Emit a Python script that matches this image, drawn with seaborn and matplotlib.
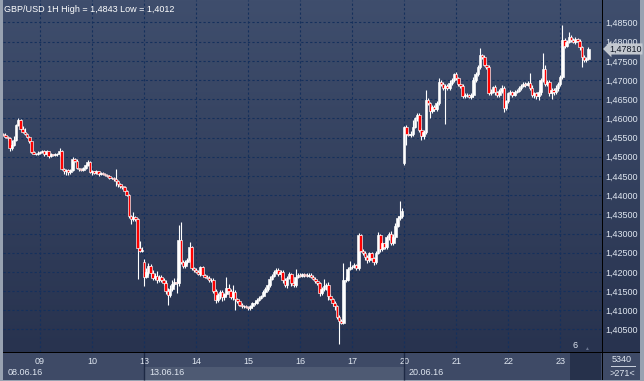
import numpy as np
import pandas as pd
import matplotlib
matplotlib.use("Agg")
import matplotlib.pyplot as plt
import matplotlib.transforms as mtransforms
from matplotlib.colors import LinearSegmentedColormap
from matplotlib.patches import Rectangle
from matplotlib.ticker import FuncFormatter
import seaborn as sns


# ── Data (GBP/USD, 1H candles, 08.06.16 07:00 .. 23.06.16 13:00) ─────────────
first_open = 1.4560
gap_open = {65: 1.4226, 185: 1.4484}   # weekend gaps (candle index -> open)

close = [
    # 08.06
    1.4556, 1.4552, 1.4548, 1.4522, 1.4530, 1.4545, 1.4582, 1.4596, 1.4572,
    1.4565, 1.4560, 1.4552, 1.4540, 1.4512, 1.4508, 1.4507, 1.4510,
    # 09.06
    1.4512, 1.4516, 1.4508, 1.4514, 1.4502, 1.4506, 1.4505, 1.4508, 1.4506,
    1.4514, 1.4468, 1.4462, 1.4466, 1.4460, 1.4465, 1.4495, 1.4490, 1.4470,
    1.4468, 1.4466, 1.4470, 1.4478, 1.4486, 1.4460,
    # 10.06
    1.4462, 1.4458, 1.4462, 1.4456, 1.4458, 1.4455, 1.4452, 1.4450, 1.4446,
    1.4445, 1.4442, 1.4436, 1.4430, 1.4424, 1.4420, 1.4412, 1.4400, 1.4345,
    1.4338, 1.4342, 1.4338, 1.4262, 1.4255, 1.4258,
    # 13.06
    1.4188, 1.4200, 1.4215, 1.4198, 1.4185, 1.4190, 1.4178, 1.4186, 1.4180,
    1.4172, 1.4150, 1.4140, 1.4155, 1.4168, 1.4175, 1.4170, 1.4283, 1.4226,
    1.4215, 1.4225, 1.4230, 1.4265, 1.4210, 1.4205,
    # 14.06
    1.4200, 1.4195, 1.4212, 1.4192, 1.4188, 1.4185, 1.4178, 1.4180, 1.4150,
    1.4128, 1.4140, 1.4148, 1.4135, 1.4142, 1.4158, 1.4150, 1.4135, 1.4148,
    1.4130, 1.4125, 1.4115, 1.4110, 1.4112, 1.4108,
    # 15.06
    1.4105, 1.4110, 1.4118, 1.4120, 1.4128, 1.4132, 1.4138, 1.4148, 1.4155,
    1.4165, 1.4182, 1.4190, 1.4200, 1.4205, 1.4195, 1.4200, 1.4178, 1.4165,
    1.4185, 1.4195, 1.4170, 1.4165, 1.4188, 1.4192,
    # 16.06
    1.4190, 1.4195, 1.4192, 1.4190, 1.4193, 1.4188, 1.4182, 1.4176, 1.4172,
    1.4145, 1.4155, 1.4162, 1.4165, 1.4138, 1.4130, 1.4120, 1.4110, 1.4082,
    1.4072, 1.4068, 1.4178, 1.4180, 1.4208, 1.4214,
    # 17.06
    1.4212, 1.4218, 1.4210, 1.4296, 1.4255, 1.4250, 1.4240, 1.4230, 1.4248,
    1.4235, 1.4225, 1.4250, 1.4295, 1.4260, 1.4275, 1.4265, 1.4290, 1.4300,
    1.4275, 1.4292, 1.4320, 1.4340, 1.4345, 1.4360,
    # 20.06
    1.4578, 1.4560, 1.4558, 1.4560, 1.4578, 1.4600, 1.4609, 1.4570, 1.4553,
    1.4565, 1.4648, 1.4640, 1.4620, 1.4630, 1.4625, 1.4640, 1.4695, 1.4690,
    1.4680, 1.4685, 1.4678, 1.4692, 1.4700, 1.4715,
    # 21.06
    1.4705, 1.4690, 1.4685, 1.4658, 1.4662, 1.4660, 1.4656, 1.4662, 1.4700,
    1.4715, 1.4734, 1.4765, 1.4760, 1.4740, 1.4735, 1.4666, 1.4670, 1.4681,
    1.4668, 1.4660, 1.4672, 1.4680, 1.4627, 1.4645,
    # 22.06
    1.4665, 1.4668, 1.4662, 1.4670, 1.4672, 1.4680, 1.4685, 1.4690, 1.4688,
    1.4692, 1.4680, 1.4660, 1.4665, 1.4658, 1.4670, 1.4700, 1.4730, 1.4690,
    1.4695, 1.4665, 1.4675, 1.4668, 1.4680, 1.4690,
    # 23.06
    1.4708, 1.4804, 1.4790, 1.4800, 1.4812, 1.4805, 1.4800, 1.4806, 1.4802,
    1.4785, 1.4760, 1.4752, 1.4755, 1.4781,
]

# upper / lower shadow length in pips
wick_up = [
    3, 5, 3, 4, 15, 8, 4, 5, 3, 8, 10, 3, 3, 2, 2, 3, 4,
    4, 3, 3, 4, 2, 3, 2, 3, 2, 8, 3, 3, 2, 3, 2, 5, 3, 3, 2, 3, 3, 3, 6, 3,
    3, 2, 3, 2, 3, 2, 3, 2, 3, 2, 3, 25, 4, 3, 3, 3, 2, 3, 4, 15, 5, 3, 18, 8,
    8, 10, 8, 5, 6, 8, 12, 6, 5, 4, 6, 8, 10, 10, 8, 10, 39, 47, 4, 5, 5, 13, 3, 4,
    4, 5, 4, 4, 3, 4, 5, 4, 3, 5, 4, 6, 5, 4, 28, 10, 6, 18, 4, 3, 3, 4, 3, 3,
    3, 3, 4, 3, 3, 4, 3, 4, 5, 4, 8, 4, 5, 6, 5, 6, 4, 6, 5, 4, 3, 6, 20, 4,
    4, 3, 3, 4, 3, 3, 4, 5, 4, 3, 5, 20, 5, 8, 4, 3, 3, 4, 5, 4, 44, 6, 5, 15,
    4, 4, 3, 6, 4, 5, 4, 3, 5, 4, 3, 5, 8, 4, 5, 4, 5, 4, 6, 6, 8, 6, 40, 6,
    3, 4, 5, 6, 18, 5, 5, 4, 6, 5, 26, 5, 4, 5, 6, 5, 10, 4, 5, 6, 5, 8, 6, 4,
    5, 4, 3, 4, 3, 4, 3, 4, 8, 6, 5, 18, 4, 5, 4, 5, 6, 4, 5, 4, 5, 6, 5, 4,
    4, 5, 4, 5, 4, 5, 4, 6, 4, 5, 26, 6, 4, 5, 4, 5, 40, 8, 6, 5, 4, 5, 6, 5,
    5, 39, 6, 5, 13, 5, 4, 5, 4, 5, 4, 5, 5, 6,
]
wick_dn = [
    3, 4, 3, 8, 5, 3, 3, 2, 3, 3, 3, 4, 3, 3, 2, 2, 3,
    3, 3, 5, 3, 6, 3, 3, 2, 4, 3, 3, 8, 10, 8, 6, 3, 4, 3, 5, 3, 2, 3, 3, 3,
    7, 3, 3, 6, 3, 3, 2, 3, 3, 3, 4, 12, 10, 5, 4, 3, 3, 4, 12, 6, 5, 80, 3, 3,
    26, 5, 8, 10, 6, 5, 8, 5, 6, 6, 8, 26, 6, 5, 6, 25, 8, 6, 4, 5, 4, 5, 4, 6,
    4, 4, 5, 3, 4, 3, 4, 5, 4, 8, 6, 10, 12, 8, 6, 8, 5, 8, 30, 6, 4, 4, 3, 3,
    3, 3, 3, 3, 4, 3, 3, 4, 3, 4, 5, 4, 4, 5, 6, 8, 6, 5, 8, 4, 6, 5, 4, 3,
    3, 3, 4, 3, 3, 3, 4, 4, 6, 8, 5, 4, 8, 10, 4, 10, 8, 6, 60, 4, 4, 5, 4, 4,
    4, 3, 4, 5, 4, 6, 8, 6, 5, 6, 8, 5, 4, 8, 6, 5, 6, 8, 4, 5, 6, 4, 5, 4,
    6, 29, 5, 6, 5, 4, 6, 5, 10, 6, 5, 6, 18, 5, 6, 5, 4, 6, 5, 95, 5, 4, 5, 4,
    4, 5, 6, 5, 4, 5, 4, 5, 6, 5, 4, 5, 6, 4, 5, 6, 4, 5, 6, 5, 4, 5, 10, 4,
    5, 4, 5, 4, 5, 4, 5, 4, 5, 4, 5, 4, 6, 8, 10, 8, 5, 6, 5, 6, 15, 6, 5, 8,
    5, 4, 6, 5, 4, 5, 4, 5, 4, 6, 25, 5, 4, 4,
]

price_ticks = [1.405, 1.410, 1.415, 1.420, 1.425, 1.430, 1.435, 1.440, 1.445,
               1.450, 1.455, 1.460, 1.465, 1.470, 1.475, 1.480, 1.485]
last_price = 1.47810
title = "GBP/USD 1H High = 1,4843 Low = 1,4012"
bars_total = "5340"
bars_shown = ">271<"

PIP = 0.0001
W, H = 644, 381

# ── Colours ───────────────────────────────────────────────────────────────────
BG_TOP   = "#3f4e6d"
BG_BOT   = "#28334f"
GRID     = "#15305c"
TXT      = "#dfe6f0"
STRIP    = "#3e4a66"
BULL     = "#ffffff"
BEAR     = "#ff0000"


# ── Build candles ─────────────────────────────────────────────────────────────
times = pd.date_range("2016-06-08 07:00", "2016-06-24 00:00", freq="h")
times = times[times.dayofweek < 5][:len(close)]

df = pd.DataFrame({"time": times, "close": close,
                   "wu": wick_up, "wd": wick_dn})
df["open"] = df["close"].shift(1)
df.loc[0, "open"] = first_open
for k, v in gap_open.items():
    df.loc[k, "open"] = v
df["top"] = df[["open", "close"]].max(axis=1)
df["bot"] = df[["open", "close"]].min(axis=1)
df["high"] = df["top"] + df["wu"] * PIP
df["low"] = df["bot"] - df["wd"] * PIP
df["x"] = np.arange(len(df))
df["bear"] = df["close"] < df["open"]

day = df["time"].dt.normalize()
day_first = df.groupby(day)["x"].min()
day_ticks = day_first.iloc[1:]
week_first = df.groupby(df["time"].dt.to_period("W"))["x"].min()


# ── Figure ────────────────────────────────────────────────────────────────────
sns.set_theme(style="dark")
plt.rcParams["font.family"] = ["Liberation Sans", "DejaVu Sans"]

fig = plt.figure(figsize=(W / 100, H / 100), dpi=100)
fig.patch.set_facecolor("#98a2b1")


def frect(x, y, w, h, color, z=0):
    fig.add_artist(Rectangle((x / W, 1 - (y + h) / H), w / W, h / H,
                             transform=fig.transFigure, fc=color, ec="none",
                             zorder=z))


# background gradient behind chart + price scale
bg = fig.add_axes([3 / W, 1 - 352 / H, 637 / W, 352 / H])
cmap = LinearSegmentedColormap.from_list("bg", [BG_TOP, BG_BOT])
bg.imshow(np.linspace(0, 1, 256).reshape(-1, 1), cmap=cmap, aspect="auto",
          extent=[0, 1, 0, 1])
bg.axis("off")

# bottom strips
frect(3, 353, 637, 27, STRIP)
frect(570, 353, 31, 27, "#26314b", z=1)
frect(3, 352, 637, 1, "#000000", z=2)
frect(602, 0, 1, 380, "#000000", z=2)

ax = fig.add_axes([3 / W, 1 - 352 / H, 599 / W, 352 / H])
ax.patch.set_alpha(0)
for s in ax.spines.values():
    s.set_visible(False)

# shadows, then bodies
ax.vlines(df["x"], df["low"], df["high"], color="white", lw=0.8, zorder=2)
body_h = (df["top"] - df["bot"]).clip(lower=0.00004)
ax.bar(df["x"], body_h, bottom=df["bot"], width=1.2,
       color=np.where(df["bear"], BEAR, BULL), edgecolor="white",
       linewidth=0.45, zorder=3)

ax.set_xlim(-0.09, 276.3)
ax.set_ylim(1.39913, 1.49086)

# grid / ticks
ax.set_yticks(price_ticks)
ax.yaxis.set_major_formatter(FuncFormatter(lambda v, _: f"{v:.5f}".replace(".", ",")))
ax.yaxis.tick_right()
ax.set_xticks(day_ticks.values)
ax.set_xticklabels(day_ticks.index.strftime("%d"))
ax.tick_params(axis="y", length=0, pad=2.5, labelsize=6.5, colors=TXT)
ax.tick_params(axis="x", length=0, pad=3.5, labelsize=6.5, colors=TXT)
ax.grid(True, color=GRID, linestyle=(0, (2, 2)), linewidth=0.8)
ax.set_axisbelow(True)

# date strip with highlighted week
blend = mtransforms.blended_transform_factory(ax.transData, ax.transAxes)
wk = week_first.values
ax.add_patch(Rectangle((wk[1], -28 / 352), wk[2] - wk[1], 13 / 352,
                       transform=blend, fc="#4e5a73", ec="none",
                       clip_on=False, zorder=1))
ax.vlines(wk[1:], -28 / 352, 0, transform=blend, color="#1d2944", lw=1,
          clip_on=False)
for w in wk:
    ax.annotate(df.loc[w, "time"].strftime("%d.%m.%y"), xy=(w, 0),
                xycoords=blend, xytext=(3.5, -14.8), textcoords="offset points",
                ha="left", va="center", fontsize=6.5, color=TXT,
                annotation_clip=False)

# current price tag
ax.annotate(f"{last_price:.5f}".replace(".", ","), xy=(1.0, last_price),
            xycoords=("axes fraction", "data"), xytext=(5, 0),
            textcoords="offset points", ha="left", va="center",
            fontsize=6.5, color="#111827", annotation_clip=False,
            bbox=dict(boxstyle="larrow,pad=0.12", fc="#c3c8d0", ec="none"))

# labels
fig.text(4 / W, 1 - 9 / H, title, fontsize=6.5, color="white",
         ha="left", va="center")
fig.text(575 / W, 1 - 346 / H, "6", fontsize=6.5, color=TXT,
         ha="center", va="center")
fig.text(586 / W, 1 - 348 / H, "▲", fontsize=3.5, color="#6b7690",
         ha="center", va="center")
fig.text(622 / W, 1 - 359 / H, bars_total, fontsize=6.5, color=TXT,
         ha="center", va="center")
frect(611, 366, 25, 1, "#c9d0dc", z=2)
fig.text(622 / W, 1 - 373 / H, bars_shown, fontsize=6.5, color=TXT,
         ha="center", va="center")

fig.savefig("out.png", dpi=100, facecolor=fig.get_facecolor())
